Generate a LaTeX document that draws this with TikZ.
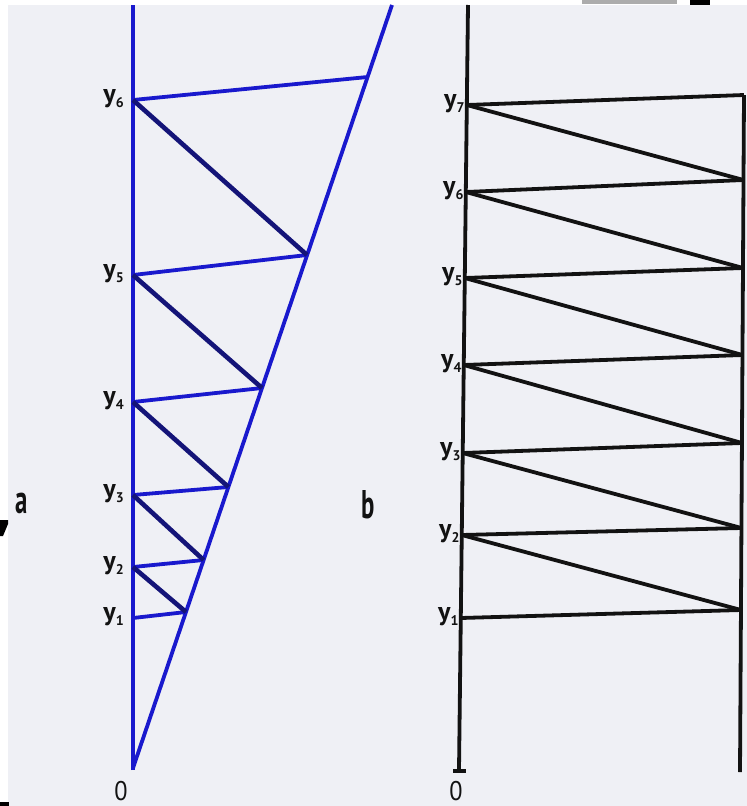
\documentclass[tikz,border=0pt]{standalone}
\usepackage{fontspec}
\setmainfont{PT Sans}
\usetikzlibrary{calc}
\definecolor{bg}{RGB}{239,240,245}
\definecolor{lineblue}{RGB}{25,25,205}
\definecolor{diagblue}{RGB}{20,20,120}
\definecolor{ink}{RGB}{18,18,18}
\newcommand{\ylabel}[1]{y\raisebox{-5pt}{\fontsize{14}{14}\selectfont #1}}
\begin{document}
\begin{tikzpicture}[x=1pt,y=-1pt,
  axisa/.style={lineblue,line width=3.8pt},
  rung/.style={lineblue,line width=3.8pt},
  slant/.style={diagblue,line width=4.6pt},
  blk/.style={ink,line width=3.8pt},
  ylab/.style={anchor=base east,inner sep=0pt,font=\fontsize{26}{26}\selectfont\bfseries,text=ink},
  zlab/.style={anchor=base,inner sep=0pt,font=\fontsize{27}{27}\selectfont,text=ink},
  plab/.style={anchor=base,inner sep=0pt,font=\fontsize{40}{40}\selectfont\bfseries,text=ink}]
\useasboundingbox (0,0) rectangle (747,806);
\fill[white] (0,0) rectangle (747,806);
\fill[bg] (8,5) rectangle (747,806);
% scan artifacts at the edges
\fill[gray!65] (582,0) rectangle (677,4);
\fill[black] (690,0) rectangle (710,5);
\fill[black] (0,520) -- (8,520) -- (8,524) -- (3,536) -- (0,536) -- cycle;
\fill[black] (0,802) rectangle (9,806);

% ---------- panel a ----------
\coordinate (aB) at (133,770);
\coordinate (aTop) at (133,5);
\coordinate (aO) at (133,768);
\coordinate (aT) at (392,5);
\coordinate (A1) at (133,618); \coordinate (P1) at (186,612);
\coordinate (A2) at (133,567); \coordinate (P2) at (203.6,560);
\coordinate (A3) at (133,495); \coordinate (P3) at (228.4,487);
\coordinate (A4) at (133,402); \coordinate (P4) at (262,388);
\coordinate (A5) at (133,275); \coordinate (P5) at (307,255);
\coordinate (A6) at (133,100); \coordinate (P6) at (367.6,77);

\draw[axisa] (aB) -- (aTop);
\draw[axisa] (aO) -- (aT);
\foreach \k in {1,...,6} { \draw[rung] (A\k) -- (P\k); }
\foreach \k [evaluate=\k as \n using int(\k+1)] in {1,...,5} { \draw[slant] (A\n) -- (P\k); }
\foreach \k in {1,...,6} { \node[ylab] (la\k) at ($(A\k)+(-9,2)$) {\ylabel{\k}}; }
\node[plab] (pa) at (22,513) {\scalebox{0.62}[1]{a}};
\node[zlab] (za) at (121,800) {\scalebox{0.9}[1]{0}};

% ---------- panel b ----------
\coordinate (bB) at (459,770);
\coordinate (bTop) at (468,5);
\coordinate (tl) at (453,771);
\coordinate (tr) at (466,771);
\coordinate (rB) at (740,772);
\coordinate (B7) at (466.8,105); \coordinate (R7) at (744,95);
\coordinate (B6) at (465.8,192); \coordinate (R6) at (743.5,180);
\coordinate (B5) at (464.8,278); \coordinate (R5) at (743,268);
\coordinate (B4) at (463.8,365); \coordinate (R4) at (742.5,355);
\coordinate (B3) at (462.7,453); \coordinate (R3) at (742,443);
\coordinate (B2) at (461.8,535); \coordinate (R2) at (741.4,528);
\coordinate (B1) at (460.8,618); \coordinate (R1) at (741,610);

\draw[blk] (bB) -- (bTop);
\draw[blk] (tl) -- (tr);
\draw[blk] (rB) -- (R7);
\foreach \k in {1,...,7} { \draw[blk] (B\k) -- (R\k); }
\foreach \k [evaluate=\k as \n using int(\k+1)] in {1,...,6} { \draw[blk] (B\n) -- (R\k); }
\foreach \k in {1,...,7} { \node[ylab] (lb\k) at ($(B\k)+(-2,2)$) {\ylabel{\k}}; }
\node[plab] (pb) at (368,518) {\scalebox{0.62}[1]{b}};
\node[zlab] (zb) at (456,800) {\scalebox{0.9}[1]{0}};
\end{tikzpicture}
\end{document}
